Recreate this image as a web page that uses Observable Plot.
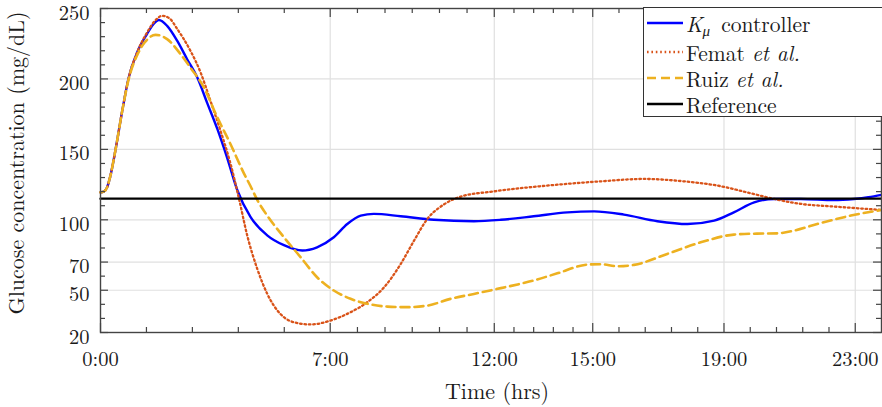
<!DOCTYPE html>
<html><head><meta charset="utf-8">
<script src="https://cdn.jsdelivr.net/npm/d3@7"></script>
<script src="https://cdn.jsdelivr.net/npm/@observablehq/plot@0.6"></script>
<style>
body{margin:0;background:#fff;}
#wrap{position:relative;width:882px;height:407px;overflow:hidden;font-family:"Latin Modern Roman","Liberation Serif",serif;}
#wrap svg text{font-family:"Latin Modern Roman","Liberation Serif",serif;}
.legend{position:absolute;left:643px;top:7px;width:260px;height:110px;border:1.3px solid #333;background:#fff;box-sizing:border-box;font-size:21.5px;color:#1a1a1a}
.row{position:absolute;left:2px;height:22px;line-height:22px;display:flex;align-items:center;white-space:nowrap}
.row span{line-height:22px}
.row svg{margin-right:3px;flex:none}
.row sub{font-size:15px;line-height:0;vertical-align:-4px;margin-right:4px}
</style></head>
<body><div id="wrap"></div>
<script>
// ---- data (hours, mg/dL) ----
const kmuT = [0, 0.1, 0.2, 0.3, 0.46, 0.66, 0.86, 1.12, 1.42, 1.6, 1.78, 2.03, 2.34, 2.64, 2.95, 3.25, 3.56, 3.86, 4.17, 4.57, 5.08, 5.59, 6.15, 6.6, 7.11, 7.52, 7.93, 8.33, 9.15, 10.16, 11.38, 12.2, 13.2, 14.23, 15.04, 15.95, 16.97, 17.89, 18.7, 19.3, 19.92, 20.53, 21.34, 22.35, 22.96, 23.4, 23.8];
const kmuG = [119.5, 120, 123, 131, 150, 177, 201, 219, 232, 238.5, 241.8, 237.7, 227, 214, 201, 183, 164.5, 144, 121, 102, 89, 82, 78.2, 80.5, 87.6, 97, 103, 104.2, 102.5, 100, 99, 100, 102.5, 105.3, 106, 103.7, 99, 97, 99.4, 105.3, 112.4, 114.8, 114.8, 114, 114.8, 116, 117.7];

const fematT = [0, 0.1, 0.2, 0.3, 0.46, 0.66, 0.86, 1.12, 1.42, 1.65, 1.88, 2.1, 2.34, 2.74, 3.05, 3.35, 3.66, 3.96, 4.22, 4.47, 4.78, 5.08, 5.49, 5.89, 6.4, 7.01, 7.62, 8.13, 8.64, 9.15, 9.55, 9.96, 10.47, 10.98, 11.99, 13.72, 15.24, 16.56, 17.78, 18.8, 19.82, 20.53, 21.34, 22.36, 23.8];
const fematG = [119.5, 120, 123, 131, 150, 177, 201, 219, 233, 241, 244.8, 243, 235.4, 220, 204.6, 184.5, 163, 140, 115, 89, 65, 47.5, 33, 27.3, 25.7, 28.5, 34.4, 41.5, 52, 68.7, 85, 100.6, 111, 116.5, 120.2, 124.5, 127.3, 129, 127.3, 124.3, 118.8, 114.8, 111.3, 109.4, 107];

const ruizT = [0, 0.1, 0.2, 0.3, 0.46, 0.66, 0.86, 1.12, 1.35, 1.68, 2.03, 2.44, 2.74, 3.15, 3.56, 3.96, 4.37, 4.57, 4.78, 5.08, 5.59, 6.1, 6.6, 7.11, 7.62, 8.13, 8.74, 9.35, 9.96, 10.67, 11.38, 12.2, 13.2, 13.92, 14.84, 15.25, 15.75, 16.26, 17.27, 18.29, 19.3, 20.0, 20.62, 21.13, 21.84, 22.87, 23.8];
const ruizG = [119.5, 120, 123, 131, 150, 177, 200, 217, 226, 231.3, 228.3, 217.6, 208, 194, 172.7, 153.8, 133, 124, 114, 103, 87.6, 73.4, 59.2, 49.8, 43.9, 40.4, 38.4, 38, 39.1, 43.9, 47.4, 51.5, 56.9, 62, 68.2, 68.5, 67, 68, 75.8, 84, 89.5, 90.2, 90.4, 92.3, 97, 103, 107];

const refT = [0, 23.8];
const refG = [115, 115];

const seriesLabels = ["<i>K</i><sub><i>μ</i></sub> controller", "Femat <i>et al.</i>", "Ruiz <i>et al.</i>", "Reference"];

const xMajor = [0, 7, 12, 15, 19, 23];
const xTickLabels = ["0:00", "7:00", "12:00", "15:00", "19:00", "23:00"];
const xMinor = [1.4, 2.8, 4.2, 5.6, 7.83, 8.67, 9.5, 10.33, 11.17, 12.6, 13.2, 13.8, 14.4, 15.8, 16.6, 17.4, 18.2, 19.8, 20.6, 21.4, 22.2];
const yMajor = [20, 50, 70, 100, 150, 200, 250];
const yMinor = [30, 40, 60, 80, 90, 110, 120, 130, 140, 160, 170, 180, 190, 210, 220, 230, 240];
const xTitle = "Time (hrs)";
const yTitle = "Glucose concentration (mg/dL)";

// ---- layout ----
const W = 882, H = 407, ML = 100, MR = 1, MT = 8, MB = 75;
const FW = W - ML - MR, FH = H - MT - MB;
const axisColor = "#444";
const gridColor = "#e0e0e0";
const FONT = '"Latin Modern Roman", "Liberation Serif", serif';

const toRows = (T, G) => T.map((t, i) => ({t, g: G[i]}));
const kmu = toRows(kmuT, kmuG), femat = toRows(fematT, fematG), ruiz = toRows(ruizT, ruizG), ref = toRows(refT, refG);

const styles = [
  {stroke: "#0000ff", strokeWidth: 2.4},
  {stroke: "#d95319", strokeWidth: 2.3, strokeDasharray: "1.6,2.8"},
  {stroke: "#edb120", strokeWidth: 2.6, strokeDasharray: "9,5"},
  {stroke: "#000000", strokeWidth: 2.4}
];

const chart = Plot.plot({
  width: W, height: H,
  marginLeft: ML, marginRight: MR, marginTop: MT, marginBottom: MB,
  style: {fontFamily: FONT, fontSize: "20.5px", color: "#1a1a1a", background: "#fff"},
  x: {domain: [0, 23.8]},
  y: {domain: [20, 250]},
  marks: [
    Plot.gridX(xMajor.filter(v => v > 0), {stroke: gridColor, strokeOpacity: 1, strokeWidth: 1.2}),
    Plot.gridY(yMajor.filter(v => v > 20 && v < 250), {stroke: gridColor, strokeOpacity: 1, strokeWidth: 1.2}),
    Plot.line(kmu, {x: "t", y: "g", curve: "monotone-x", ...styles[0]}),
    Plot.line(femat, {x: "t", y: "g", curve: "monotone-x", ...styles[1]}),
    Plot.line(ruiz, {x: "t", y: "g", curve: "monotone-x", ...styles[2]}),
    Plot.line(ref, {x: "t", y: "g", ...styles[3]}),
    // inward ticks, bottom & top
    Plot.tickX(xMajor, {x: d => d, insetTop: FH - 9, stroke: axisColor, strokeWidth: 1.2}),
    Plot.tickX(xMinor, {x: d => d, insetTop: FH - 5, stroke: axisColor, strokeWidth: 1.2}),
    Plot.tickX(xMajor, {x: d => d, insetBottom: FH - 9, stroke: axisColor, strokeWidth: 1.2}),
    Plot.tickX(xMinor, {x: d => d, insetBottom: FH - 5, stroke: axisColor, strokeWidth: 1.2}),
    // inward ticks, left & right
    Plot.tickY(yMajor, {y: d => d, insetRight: FW - 8, stroke: axisColor, strokeWidth: 1.2}),
    Plot.tickY(yMinor, {y: d => d, insetRight: FW - 5, stroke: axisColor, strokeWidth: 1.2}),
    Plot.tickY(yMajor, {y: d => d, insetLeft: FW - 8, stroke: axisColor, strokeWidth: 1.2}),
    Plot.tickY(yMinor, {y: d => d, insetLeft: FW - 5, stroke: axisColor, strokeWidth: 1.2}),
    Plot.frame({stroke: axisColor, strokeWidth: 1.4}),
    Plot.axisX(xMajor, {tickSize: 0, tickPadding: 19, tickFormat: d => xTickLabels[xMajor.indexOf(d)], label: null, fontSize: 20.5}),
    Plot.axisY(yMajor, {tickSize: 0, tickPadding: 11, dy: 4.5, label: null, fontSize: 20.5}),
    Plot.text([xTitle], {frameAnchor: "bottom", textAnchor: "middle", lineAnchor: "middle", dy: 59, dx: 6, fontSize: 22, fill: "#1a1a1a"}),
    Plot.text([yTitle], {frameAnchor: "left", textAnchor: "middle", lineAnchor: "middle", rotate: -90, dx: -84, dy: -7.5, fontSize: 22, fill: "#1a1a1a"})
  ]
});

const wrap = document.getElementById("wrap");
wrap.appendChild(chart);

// ---- legend ----
const legend = document.createElement("div");
legend.className = "legend";
const rowTops = [4, 33, 59, 85];
seriesLabels.forEach((lab, i) => {
  const r = document.createElement("div");
  r.className = "row";
  r.style.top = rowTops[i] + "px";
  const s = styles[i];
  r.innerHTML = `<svg width="37" height="10"><line x1="1" x2="37" y1="5" y2="5" stroke="${s.stroke}" stroke-width="${s.strokeWidth}" ${s.strokeDasharray ? `stroke-dasharray="${s.strokeDasharray}"` : ""}/></svg><span>${lab}</span>`;
  legend.appendChild(r);
});
wrap.appendChild(legend);
</script></body></html>
